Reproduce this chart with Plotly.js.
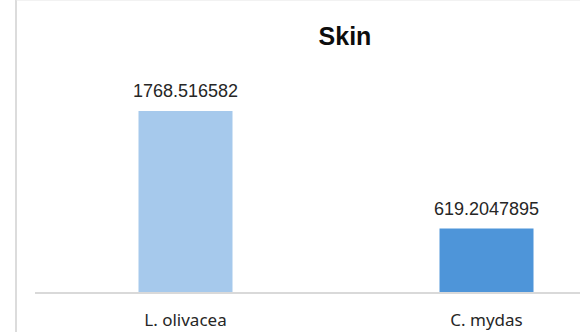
<!DOCTYPE html>
<html><head><meta charset="utf-8">
<script src="https://cdn.plot.ly/plotly-3.0.1.min.js"></script>
<style>html,body{margin:0;padding:0;background:#fff;}#chart{width:580px;height:332px;}</style>
</head><body><div id="chart"></div>
<script>
const categories = ["L. olivacea", "C. mydas"];
const values = [1768.516582, 619.2047895];
const valueLabels = ["1768.516582", "619.2047895"];
const barColors = ["#A6C9EC", "#4E95D9"];
const chartTitle = "Skin";

const trace = {
  type: "bar",
  x: categories,
  y: values,
  marker: {color: barColors},
  width: 0.3123,
  hoverinfo: "none"
};

const annotations = categories.map((c, i) => ({
  x: c, y: values[i], xref: "x", yref: "y",
  text: valueLabels[i], showarrow: false,
  yanchor: "bottom", yshift: 8,
  font: {family: "Liberation Sans, Arial, sans-serif", size: 18, color: "#262626"}
}));

const layout = {
  width: 580, height: 332,
  margin: {l: 35, r: 0, t: 0, b: 40},
  paper_bgcolor: "#ffffff", plot_bgcolor: "#ffffff",
  showlegend: false,
  title: {text: "<b>" + chartTitle + "</b>", x: 345/580, xanchor: "center", y: 1 - 36/332, yanchor: "middle",
          font: {family: "Liberation Sans, Arial, sans-serif", size: 25, color: "#0d0d0d"}},
  xaxis: {range: [-0.5, 1.3106], showgrid: false, zeroline: false, showline: true,
          linecolor: "#d9d9d9", linewidth: 1.5, ticks: "", ticklabelstandoff: 12,
          tickfont: {family: "Noto Sans, sans-serif", size: 17, color: "#262626"}, fixedrange: true},
  yaxis: {range: [0, 2852.7], visible: false, showgrid: false, zeroline: false, fixedrange: true},
  annotations: annotations,
  shapes: [
    {type: "line", xref: "paper", yref: "paper", x0: (16-35)/545, x1: (16-35)/545, y0: -40/292, y1: 1,
     line: {color: "#d0d0d0", width: 1.5}},
    {type: "line", xref: "paper", yref: "paper", x0: (16-35)/545, x1: 1, y0: 1, y1: 1,
     line: {color: "#e6e6e6", width: 1}}
  ]
};

Plotly.newPlot("chart", [trace], layout, {displayModeBar: false, staticPlot: true});
</script></body></html>
